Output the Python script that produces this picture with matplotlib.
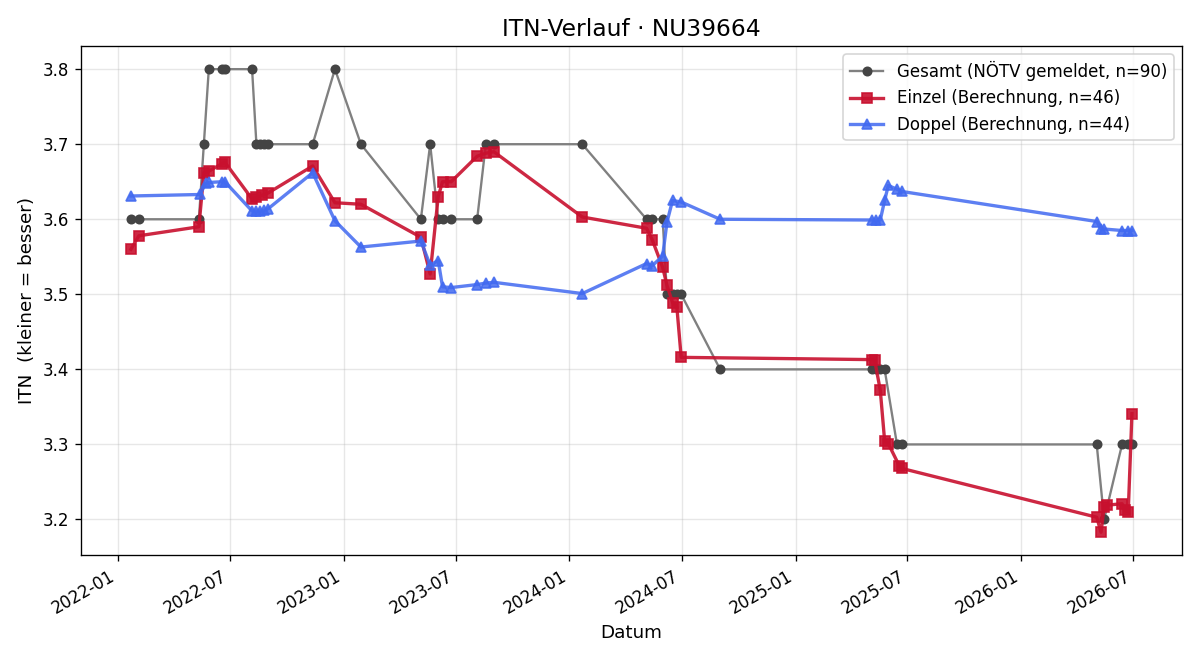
import matplotlib
matplotlib.use("Agg")
import matplotlib.pyplot as plt
import matplotlib.dates as mdates
import pandas as pd

gesamt_dates = ["2022-01-22", "2022-02-04", "2022-05-12", "2022-05-20", "2022-05-28", "2022-06-18",
                "2022-06-23", "2022-08-06", "2022-08-13", "2022-08-19", "2022-08-25", "2022-09-01",
                "2022-11-12", "2022-12-18", "2023-01-29", "2023-05-06", "2023-05-21", "2023-06-03",
                "2023-06-10", "2023-06-24", "2023-08-05", "2023-08-19", "2023-09-01", "2024-01-22",
                "2024-05-05", "2024-05-14", "2024-05-31", "2024-06-07", "2024-06-16", "2024-06-23",
                "2024-06-30", "2024-09-01", "2025-05-05", "2025-05-11", "2025-05-18", "2025-05-25",
                "2025-06-14", "2025-06-22", "2026-05-03", "2026-05-15", "2026-06-13", "2026-06-23",
                "2026-06-29"]
gesamt_vals = [3.6, 3.6, 3.6, 3.7, 3.8, 3.8,
               3.8, 3.8, 3.7, 3.7, 3.7, 3.7,
               3.7, 3.8, 3.7, 3.6, 3.7, 3.6,
               3.6, 3.6, 3.6, 3.7, 3.7, 3.7,
               3.6, 3.6, 3.6, 3.5, 3.5, 3.5,
               3.5, 3.4, 3.4, 3.4, 3.4, 3.4,
               3.3, 3.3, 3.3, 3.2, 3.3, 3.3,
               3.3]

einzel_dates = ["2022-01-22", "2022-02-04", "2022-05-12", "2022-05-20", "2022-05-28", "2022-06-18",
                "2022-06-23", "2022-08-06", "2022-08-13", "2022-08-22", "2022-09-01", "2022-11-12",
                "2022-12-18", "2023-01-29", "2023-05-06", "2023-05-21", "2023-06-03", "2023-06-10",
                "2023-06-24", "2023-08-05", "2023-08-19", "2023-09-01", "2024-01-22", "2024-05-05",
                "2024-05-14", "2024-05-31", "2024-06-07", "2024-06-16", "2024-06-23", "2024-06-30",
                "2025-05-05", "2025-05-09", "2025-05-18", "2025-05-25", "2025-05-31", "2025-06-18",
                "2025-06-22", "2026-05-03", "2026-05-10", "2026-05-15", "2026-05-19", "2026-06-13",
                "2026-06-18", "2026-06-23", "2026-06-29"]
einzel_vals = [3.560, 3.578, 3.590, 3.662, 3.664, 3.674,
               3.676, 3.627, 3.629, 3.632, 3.635, 3.671,
               3.622, 3.620, 3.576, 3.527, 3.630, 3.650,
               3.650, 3.684, 3.688, 3.690, 3.603, 3.588,
               3.573, 3.536, 3.512, 3.489, 3.483, 3.416,
               3.413, 3.412, 3.372, 3.305, 3.301, 3.271,
               3.268, 3.203, 3.183, 3.216, 3.219, 3.221,
               3.212, 3.210, 3.341]

doppel_dates = ["2022-01-22", "2022-05-14", "2022-05-23", "2022-05-28", "2022-06-18", "2022-06-23",
                "2022-08-06", "2022-08-13", "2022-08-19", "2022-08-25", "2022-09-01", "2022-11-12",
                "2022-12-18", "2023-01-29", "2023-05-06", "2023-05-21", "2023-06-03", "2023-06-10",
                "2023-06-24", "2023-08-05", "2023-08-19", "2023-09-01", "2024-01-22", "2024-05-05",
                "2024-05-14", "2024-05-31", "2024-06-07", "2024-06-16", "2024-06-30", "2024-09-01",
                "2025-05-05", "2025-05-11", "2025-05-18", "2025-05-25", "2025-05-31", "2025-06-14",
                "2025-06-22", "2026-05-03", "2026-05-10", "2026-05-15", "2026-06-13", "2026-06-23",
                "2026-06-29"]
doppel_vals = [3.631, 3.633, 3.648, 3.649, 3.650, 3.650,
               3.611, 3.611, 3.611, 3.612, 3.614, 3.662,
               3.598, 3.563, 3.571, 3.539, 3.545, 3.510,
               3.509, 3.513, 3.515, 3.516, 3.501, 3.541,
               3.538, 3.551, 3.596, 3.625, 3.623, 3.600,
               3.599, 3.599, 3.599, 3.625, 3.645, 3.640,
               3.637, 3.597, 3.587, 3.587, 3.585, 3.585,
               3.585]

fig, ax = plt.subplots(figsize=(10, 5.5), dpi=120)

ax.plot(pd.to_datetime(gesamt_dates), gesamt_vals, color="#808080", linewidth=1.4,
        marker="o", markersize=5, markerfacecolor="#444444", markeredgecolor="#444444",
        label="Gesamt (NÖTV gemeldet, n=90)", zorder=2)
ax.plot(pd.to_datetime(einzel_dates), einzel_vals, color="#c8102e", alpha=0.9, linewidth=2,
        marker="s", markersize=6, label="Einzel (Berechnung, n=46)", zorder=3)
ax.plot(pd.to_datetime(doppel_dates), doppel_vals, color="#4169f0", alpha=0.85, linewidth=2,
        marker="^", markersize=6, label="Doppel (Berechnung, n=44)", zorder=3)

ax.set_title("ITN-Verlauf · NU39664", fontsize=14)
ax.set_xlabel("Datum", fontsize=11)
ax.set_ylabel("ITN  (kleiner = besser)", fontsize=11)
ax.grid(True, alpha=0.3)
ax.xaxis.set_major_locator(mdates.MonthLocator(bymonth=[1, 7]))
ax.xaxis.set_major_formatter(mdates.DateFormatter("%Y-%m"))
ax.legend(loc="upper right")
fig.autofmt_xdate()
fig.tight_layout()
fig.savefig("out.png", dpi=120)
